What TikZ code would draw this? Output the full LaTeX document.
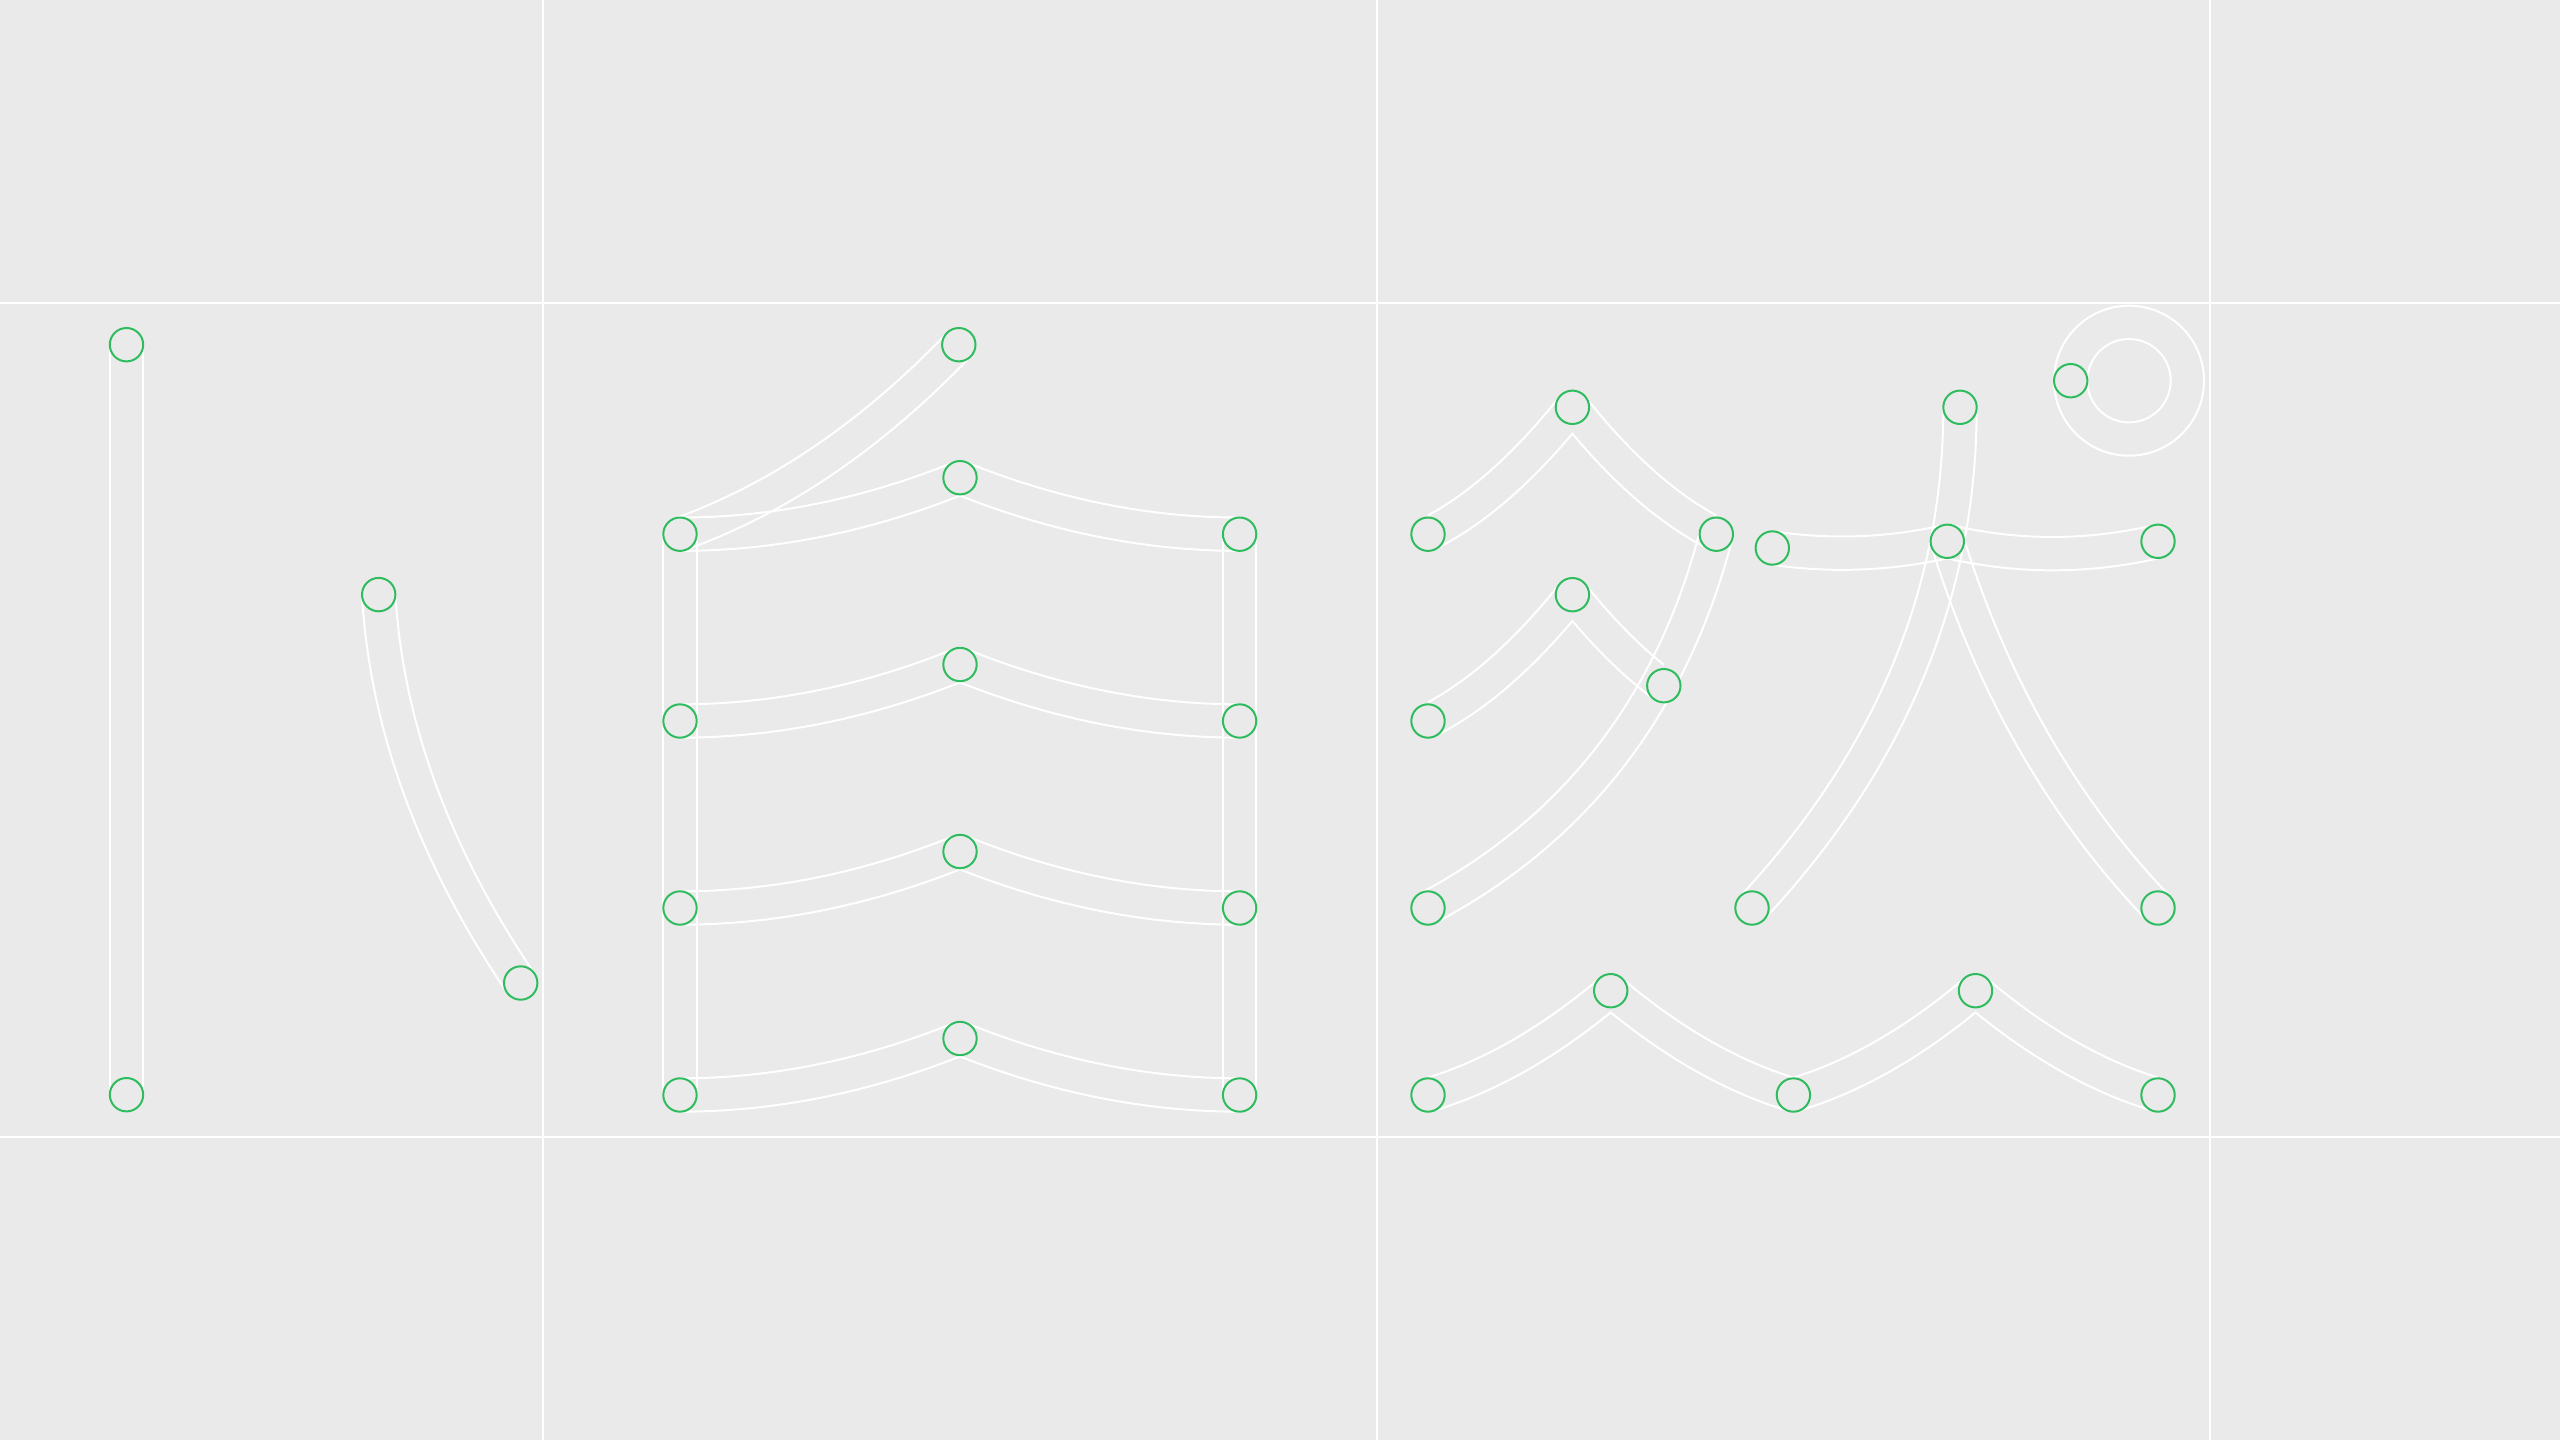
\documentclass[tikz,border=0pt]{standalone}
\usetikzlibrary{backgrounds}
\definecolor{paper}{HTML}{EAEAEA}
\definecolor{dotgreen}{HTML}{2EBC5E}
\tikzset{
  rail/.style={draw=white,line width=2pt},
  gridline/.style={draw=white,line width=2pt},
  dot/.style={circle,draw=dotgreen,fill=paper,line width=2pt,minimum size=33.4pt,inner sep=0pt,outer sep=0pt},
  ring/.style={circle,draw=white,line width=2pt,inner sep=0pt,outer sep=0pt}
}
\newcommand\getpt[3]{\pgfpointanchor{#1}{center}\pgfgetlastxy{\tmpx}{\tmpy}\pgfmathsetmacro{#2}{\tmpx}\pgfmathsetmacro{#3}{\tmpy}}
% two parallel rails, half a stroke width either side of the quadratic a - ctl - b
\newcommand\railpair[3]{%
  \coordinate (ctl) at (#2);
  \getpt{#1}{\ax}{\ay}\getpt{ctl}{\cx}{\cy}\getpt{#3}{\bx}{\by}%
  \pgfmathsetmacro{\tha}{atan2(\cy-\ay,\cx-\ax)}%
  \pgfmathsetmacro{\thb}{atan2(\by-\cy,\bx-\cx)}%
  \pgfmathsetmacro{\den}{1+cos(\thb-\tha)}%
  \foreach \d in {16.67,-16.67}{%
    \pgfmathsetmacro{\pax}{\ax-\d*sin(\tha)}%
    \pgfmathsetmacro{\pay}{\ay+\d*cos(\tha)}%
    \pgfmathsetmacro{\pbx}{\bx-\d*sin(\thb)}%
    \pgfmathsetmacro{\pby}{\by+\d*cos(\thb)}%
    \pgfmathsetmacro{\pcx}{\cx+\d*(-sin(\tha)-sin(\thb))/\den}%
    \pgfmathsetmacro{\pcy}{\cy+\d*(cos(\tha)+cos(\thb))/\den}%
    \pgfmathsetmacro{\cax}{\pax+2/3*(\pcx-\pax)}%
    \pgfmathsetmacro{\cay}{\pay+2/3*(\pcy-\pay)}%
    \pgfmathsetmacro{\cbx}{\pbx+2/3*(\pcx-\pbx)}%
    \pgfmathsetmacro{\cby}{\pby+2/3*(\pcy-\pby)}%
    \draw[rail] (\pax pt,\pay pt) .. controls (\cax pt,\cay pt) and (\cbx pt,\cby pt) .. (\pbx pt,\pby pt);
  }%
}
% the same, cut off at the x of both end nodes (sharp apex where two halves meet)
\newcommand\railcut[3]{%
  \begin{scope}
    \getpt{#1}{\kax}{\kay}\getpt{#3}{\kbx}{\kby}%
    \clip (\kax pt,-3000pt) rectangle (\kbx pt,3000pt);
    \railpair{#1}{#2}{#3}
  \end{scope}%
}
\begin{document}
\begin{tikzpicture}[x=1pt,y=-1pt]
\useasboundingbox (0,0) rectangle (2560,1440);
% nodes
\node[ring,minimum size=150pt] (ringout) at (2129,380.7) {};
\node[ring,minimum size=83.4pt] (ringin) at (2129,380.7) {};
\node[dot] (bara) at (126.5,344.7) {};
\node[dot] (barb) at (126.5,1094.7) {};
\node[dot] (dia) at (378.7,594.6) {};
\node[dot] (dib) at (520.7,983) {};
\node[dot] (rooftop) at (958.8,344.7) {};
\node[dot] (la) at (680,534.2) {};
\node[dot] (lb) at (680,721) {};
\node[dot] (lc) at (680,908) {};
\node[dot] (ld) at (680,1095) {};
\node[dot] (ma) at (960,477.7) {};
\node[dot] (mb) at (960,664.5) {};
\node[dot] (mc) at (960,851.5) {};
\node[dot] (md) at (960,1038.5) {};
\node[dot] (ra) at (1239.6,534.2) {};
\node[dot] (rb) at (1239.6,721) {};
\node[dot] (rc) at (1239.6,908) {};
\node[dot] (rd) at (1239.6,1095) {};
\node[dot] (ka) at (1428,534.2) {};
\node[dot] (kb) at (1572.4,407.3) {};
\node[dot] (kc) at (1716.3,534.2) {};
\node[dot] (kd) at (1428,721) {};
\node[dot] (ke) at (1572.4,594.7) {};
\node[dot] (kf) at (1663.8,685.7) {};
\node[dot] (kg) at (1428,908) {};
\node[dot] (wa) at (1428,1095) {};
\node[dot] (wb) at (1610.7,990.7) {};
\node[dot] (wc) at (1793.4,1095) {};
\node[dot] (wd) at (1975.5,990.7) {};
\node[dot] (we) at (2158,1095) {};
\node[dot] (ta) at (1960,407.3) {};
\node[dot] (tb) at (1752,908) {};
\node[dot] (tc) at (1947.3,541.3) {};
\node[dot] (td) at (2158,908) {};
\node[dot] (te) at (1772.3,548) {};
\node[dot] (tf) at (2158,541.3) {};
\node[dot] (spot) at (2070.7,380.7) {};
% everything behind the nodes
\begin{scope}[on background layer]
\fill[paper] (0,0) rectangle (2560,1440);
\draw[gridline] (0,302.7) -- (2560,302.7);
\draw[gridline] (0,1136.6) -- (2560,1136.6);
\draw[gridline] (543,0) -- (543,1440);
\draw[gridline] (1376.5,0) -- (1376.5,1440);
\draw[gridline] (2210,0) -- (2210,1440);
\railpair{bara}{126.5,720}{barb}
\railpair{dia}{390,790}{dib}
\railpair{la}{828,481}{rooftop}
\railpair{la}{680,815}{ld}
\railpair{ra}{1239.6,815}{rd}
\railcut{la}{820,534.2}{ma}\railcut{ma}{1100,534.2}{ra}
\railcut{lb}{820,721}{mb}\railcut{mb}{1100,721}{rb}
\railcut{lc}{820,908}{mc}\railcut{mc}{1100,908}{rc}
\railcut{ld}{820,1095}{md}\railcut{md}{1100,1095}{rd}
\railcut{ka}{1500,498}{kb}\railcut{kb}{1644.4,498}{kc}
\railcut{kd}{1500,685}{ke}\railcut{ke}{1618.1,652}{kf}
\railpair{kc}{1650,790}{kg}
\railcut{wa}{1519.4,1068}{wb}\railcut{wb}{1702,1068}{wc}
\railcut{wc}{1884.5,1068}{wd}\railcut{wd}{2066.8,1068}{we}
\railpair{ta}{1960,685}{tb}
\railpair{tc}{2014.6,758}{td}
\railcut{te}{1860,561}{tc}\railcut{tc}{2052.6,566}{tf}
\end{scope}
\end{tikzpicture}
\end{document}
